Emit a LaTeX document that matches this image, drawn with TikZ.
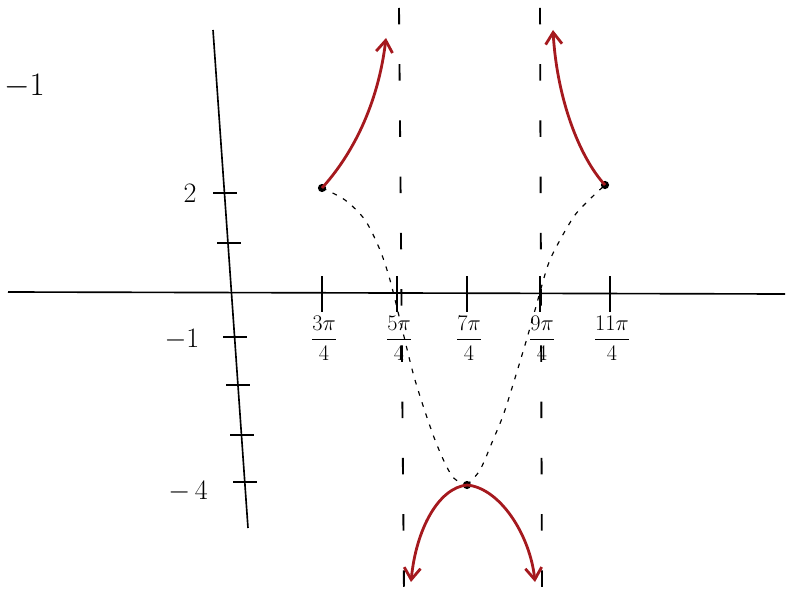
\documentclass[tikz,border=0pt]{standalone}
\usepackage{amsmath}
\usepackage{fix-cm}
\usepackage{tikz}
\usetikzlibrary{arrows.meta, positioning}

\definecolor{penred}{RGB}{165,25,30}

\begin{document}
\begin{tikzpicture}[
    x=0.03cm, y=-0.03cm,
    every node/.style={font=\fontsize{24}{28}\selectfont},
    axis/.style={line width=1.4pt},
    tickmark/.style={line width=1.4pt},
    asym/.style={line width=1.6pt, dash pattern=on 14pt off 34pt},
    guide/.style={line width=1pt, dash pattern=on 4pt off 6pt},
    branch/.style={penred, line width=2.4pt, -{Straight Barb[length=10pt,width=14pt]}},
    dot/.style={circle, fill, inner sep=0pt, minimum size=7pt},
    frac/.style={font=\fontsize{19}{22}\selectfont}
]
\useasboundingbox (0,0) rectangle (795,597);

% Axes
\draw[axis] (8,292) -- (785,294);
\draw[axis] (213,30) -- (248,528);

% Graduations sur y
\foreach \y/\x in {193/225, 243/229, 337/235, 385/238, 435/242, 482/245}
    \draw[tickmark] (\x-12,\y) -- (\x+12,\y);
\node (ytwo) at (190,193) {$2$};
\node (yminusone) at (182,340) {$-1$};
\node (yminusfour) at (188,492) {$-\,4$};
\node[anchor=west, font=\fontsize{28}{32}\selectfont] (cutlabel) at (0,86) {$-1$};

% Graduations sur x
\foreach \x/\n/\name in {322/3/a, 397/5/b, 467/7/c, 540/9/d, 610/11/e} {
    \draw[tickmark] (\x,276) -- (\x,312);
    \node[frac] (x\name) at (\x+2,338) {$\dfrac{\n\pi}{4}$};
}

% Asymptotes
\draw[asym] (399,8) -- (404,592);
\draw[asym] (540,8) -- (542,592);

% Courbe en pointillés
\draw[guide] plot[smooth] coordinates {(322,188) (345,200) (365,220) (380,250) (390,280)
    (400,320) (415,380) (435,440) (452,476) (467,485)};
\draw[guide] plot[smooth] coordinates {(467,485) (480,470) (493,440) (505,410) (525,345)
    (535,310) (548,265) (560,240) (575,215) (590,199) (605,185)};

% Points
\node[dot] (left) at (322,188) {};
\node[dot] (right) at (605,185) {};
\node[dot] (bottom) at (467,485) {};
\coordinate (lefttop) at (386,38);
\coordinate (righttop) at (553,30);
\coordinate (downleft) at (411,582);
\coordinate (downright) at (535,582);

% Branches
\draw[branch] (left.center) .. controls (352,155) and (378,105) .. (lefttop);
\draw[branch] (right.center) .. controls (580,158) and (557,100) .. (righttop);
\draw[branch] (bottom.center) .. controls (438,488) and (416,530) .. (downleft);
\draw[branch] (bottom.center) .. controls (500,488) and (530,535) .. (downright);

\end{tikzpicture}
\end{document}
